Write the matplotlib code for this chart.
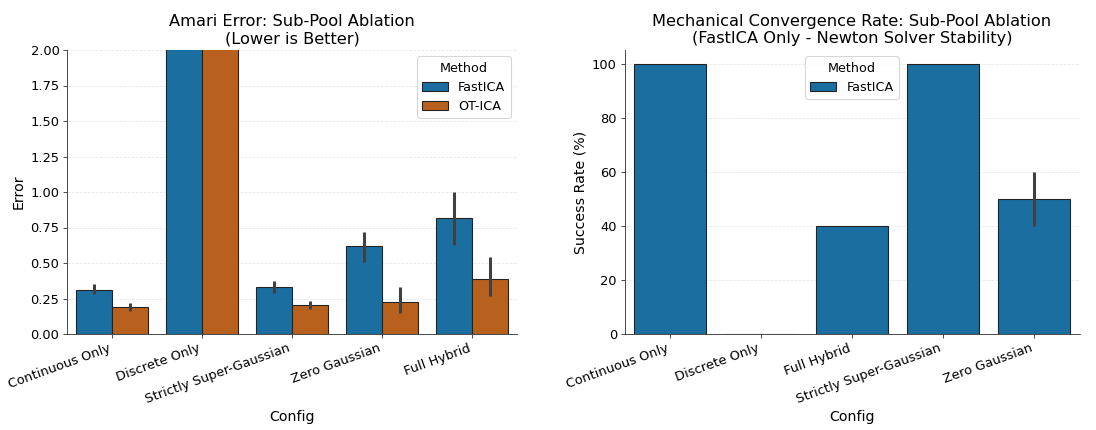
import numpy as np
import matplotlib
matplotlib.use("Agg")
import matplotlib.pyplot as plt

# left panel: Amari error per config, two methods
configs_err = ["Continuous Only", "Discrete Only", "Strictly Super-Gaussian", "Zero Gaussian", "Full Hybrid"]
fast_err = [0.31, 2.60, 0.33, 0.62, 0.815]
fast_lo = [0.28, 2.60, 0.29, 0.51, 0.63]
fast_hi = [0.35, 2.60, 0.37, 0.72, 1.00]
ot_err = [0.19, 2.60, 0.205, 0.225, 0.39]
ot_lo = [0.16, 2.60, 0.175, 0.15, 0.27]
ot_hi = [0.22, 2.60, 0.235, 0.33, 0.545]

# right panel: convergence rate (FastICA only)
configs_conv = ["Continuous Only", "Discrete Only", "Full Hybrid", "Strictly Super-Gaussian", "Zero Gaussian"]
conv_rate = [100, 0, 40, 100, 50]
conv_lo = [100, 0, 40, 100, 40]
conv_hi = [100, 0, 40, 100, 60]

BLUE = "#1a6fa0"
ORANGE = "#b8611e"
ERR = "#404040"

TICK_FS = 12
LABEL_FS = 13
TITLE_FS = 15
LEG_FS = 11.8

plt.rcParams["font.family"] = "DejaVu Sans"

DPI = 78
W, H = 1096, 430
fig = plt.figure(figsize=(W / DPI, H / DPI), dpi=DPI)
ax1 = fig.add_axes([67 / W, (H - 334) / H, 450 / W, 284 / H])
ax2 = fig.add_axes([624.5 / W, (H - 334) / H, 455 / W, 284 / H])


def style(ax):
    ax.spines["top"].set_visible(False)
    ax.spines["right"].set_visible(False)
    ax.spines["left"].set_color("#333333")
    ax.spines["bottom"].set_color("#333333")
    ax.yaxis.grid(True, linestyle="--", color="#dddddd", linewidth=0.7, alpha=0.7)
    ax.set_axisbelow(True)
    ax.tick_params(labelsize=TICK_FS, color="#333333")


# --- Amari error ---
x = np.arange(len(configs_err))
w = 0.4
ax1.bar(x - w / 2, fast_err, w, color=BLUE, edgecolor="#222222", linewidth=1.0, label="FastICA")
ax1.bar(x + w / 2, ot_err, w, color=ORANGE, edgecolor="#222222", linewidth=1.0, label="OT-ICA")
for i in range(len(x)):
    if fast_hi[i] > fast_lo[i]:
        ax1.plot([x[i] - w / 2] * 2, [fast_lo[i], fast_hi[i]], color=ERR, lw=2.8, solid_capstyle="butt")
    if ot_hi[i] > ot_lo[i]:
        ax1.plot([x[i] + w / 2] * 2, [ot_lo[i], ot_hi[i]], color=ERR, lw=2.8, solid_capstyle="butt")
ax1.set_xlim(-0.5, len(x) - 0.5)
ax1.set_ylim(0, 2.0)
ax1.set_xticks(x)
ax1.set_xticklabels(configs_err, rotation=20, ha="right")
ax1.set_xlabel("Config", fontsize=LABEL_FS)
ax1.set_ylabel("Error", fontsize=LABEL_FS)
ax1.set_title("Amari Error: Sub-Pool Ablation\n(Lower is Better)", fontsize=TITLE_FS)
style(ax1)
ax1.legend(title="Method", loc="upper right", fontsize=LEG_FS, title_fontsize=LEG_FS)

# --- convergence rate ---
x2 = np.arange(len(configs_conv))
ax2.bar(x2, conv_rate, 0.8, color=BLUE, edgecolor="#222222", linewidth=1.0, label="FastICA")
for i in range(len(x2)):
    if conv_hi[i] > conv_lo[i]:
        ax2.plot([x2[i]] * 2, [conv_lo[i], conv_hi[i]], color=ERR, lw=2.8, solid_capstyle="butt")
ax2.set_xlim(-0.5, len(x2) - 0.5)
ax2.set_ylim(0, 105)
ax2.set_xticks(x2)
ax2.set_xticklabels(configs_conv, rotation=20, ha="right")
ax2.set_xlabel("Config", fontsize=LABEL_FS)
ax2.set_ylabel("Success Rate (%)", fontsize=LABEL_FS)
ax2.set_title("Mechanical Convergence Rate: Sub-Pool Ablation\n(FastICA Only - Newton Solver Stability)",
              fontsize=TITLE_FS)
style(ax2)
ax2.legend(title="Method", loc="upper center", fontsize=LEG_FS, title_fontsize=LEG_FS)

fig.savefig("out.png", dpi=DPI)
